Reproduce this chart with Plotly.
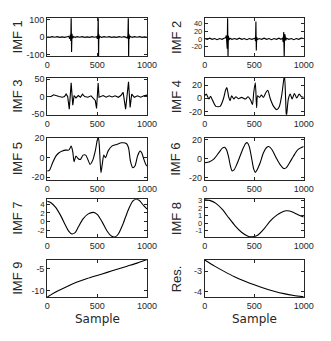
import plotly.graph_objects as go

# ---------------- data ----------------
sample_ticks = [0, 500, 1000]
sample_ticklabels = ["0", "500", "1000"]

imf1_x = [0, 25, 50, 75, 100, 125, 150, 175, 200, 215,
          225, 232, 236, 240, 244, 248, 255, 265, 280, 300,
          325, 350, 375, 400, 425, 450, 475, 495, 502, 507,
          511, 514, 517, 521, 528, 545, 570, 595, 620, 645,
          670, 695, 720, 745, 770, 790, 803, 808, 812, 815,
          818, 822, 830, 850, 875, 900, 925, 950, 975, 1000]
imf1_y = [1, -2, 2, -1, 2, -2, 1, -2, 2, 4,
          -10, 14, -22, 125, -85, 18, -7, 3, -2, 2,
          -1, 2, -2, 1, -2, 2, -1, 2, -10, 15,
          125, -125, 16, -8, 3, -2, 2, -1, 2, -2,
          1, -2, 2, -1, 2, -2, -5, 12, 125, -125,
          18, -10, 4, -2, 2, -1, 2, -2, 1, -1]

imf2_x = [0, 25, 50, 75, 100, 125, 150, 175, 195, 210,
          218, 223, 227, 231, 235, 239, 245, 255, 275, 300,
          325, 350, 375, 400, 425, 450, 475, 495, 508, 513,
          517, 521, 525, 532, 550, 575, 600, 625, 650, 675,
          700, 725, 750, 770, 785, 793, 798, 803, 807, 812,
          818, 825, 850, 875, 900, 925, 950, 975, 1000]
imf2_y = [1, -1, 2, -1, 1, -2, 1, -1, 2, 3,
          9, -12, -25, 60, -50, 8, -3, 2, -1, 1,
          -1, 2, -1, 1, -2, 1, -1, 2, 2, -6,
          45, -30, 5, -2, 1, -1, 2, -1, 1, -2,
          1, -1, 2, -1, 2, -8, 18, -50, 12, 10,
          -4, 2, -1, 1, -2, 1, -1, 2, 1]

imf3_x = [0, 38, 64, 87, 119, 151, 173, 189, 205, 221,
          240, 256, 269, 288, 311, 333, 353, 375, 407, 439,
          462, 481, 494, 510, 519, 535, 560, 590, 620, 650,
          680, 712, 737, 760, 785, 814, 830, 846, 872, 904,
          936, 968, 1000]
imf3_y = [0, 0, 5, 2, 0, -2, 0, 7, 0, -36,
          39, -25, 3, -4, 3, -2, 7, 0, -2, 2,
          -6, -11, -34, 39, -2, 0, 3, -2, 2, -1,
          2, -2, 3, 12, -36, 42, -31, 7, -2, 2,
          -2, 2, 4]

imf4_x = [0, 16, 42, 58, 81, 113, 155, 188, 210, 223,
          243, 256, 272, 294, 314, 340, 372, 411, 437, 463,
          482, 495, 511, 524, 534, 553, 573, 592, 618, 637,
          663, 696, 728, 754, 777, 796, 806, 818, 825, 845,
          864, 883, 906, 929, 955, 977, 1000]
imf4_y = [4, 6.4, -1, 3, -3.5, -12.3, -12.3, -1, 12.3, 16.3,
          1.5, -3.5, 4, -1, 2.5, -0.5, 1.5, -1, 2.5, -2.5,
          -9.4, 8.9, 23.7, -14.3, 4, 1.5, 5, 1.5, 8.9, 12.3,
          -1, -12.3, -17.3, -12.3, 4, 26, 35, -3.5, -28, -1,
          6.4, -1, 7.4, 0.5, 6.4, 2.5, 1.5]

imf5_x = [0, 22, 54, 87, 119, 151, 183, 215, 231, 240,
          256, 269, 288, 311, 333, 359, 385, 407, 429, 455,
          481, 503, 513, 522, 538, 551, 567, 583, 609, 647,
          696, 744, 792, 814, 833, 856, 878, 904, 929, 946,
          968, 987, 1000]
imf5_y = [-13.6, -12.9, -5.1, 1.7, 5.1, 6.8, 7.8, 7.8, 10.2, 11.9,
          6.1, -4.1, 1.7, -1.0, -1.7, 2.7, 2.7, -1.7, -6.8, -2.7,
          6.8, 18.6, 20.3, 11.9, -15.3, -6.8, 2.7, 0, 6.8, 11.9,
          13.6, 15.3, 14.6, 10.2, -3.4, -10.2, -8.5, 1.7, 6.8, 5.1,
          -1.7, -6.8, -8.5]

imf6_x = [0, 49, 97, 146, 178, 201, 220, 243, 259, 275,
          294, 324, 356, 388, 414, 430, 450, 476, 495, 511,
          527, 560, 592, 625, 647, 680, 722, 760, 799, 825,
          857, 896, 939, 1000]
imf6_y = [-4.1, -3.0, 0.3, 7.1, 11.2, 12.2, 9.5, 1.0, -7.5, -12.5,
          -11.9, -5.8, 2.7, 11.2, 16.3, 17, 12.9, -0.7, -10.8, -14.2,
          -11.9, -4.1, 6.1, 11.9, 12.9, 9.5, 1.0, -5.8, -10.2, -9.2,
          -4.1, 2.7, 9.5, 12.9]

imf7_x = [0, 38, 87, 135, 183, 215, 247, 279, 311, 359,
          407, 462, 503, 551, 599, 647, 679, 712, 760, 808,
          856, 888, 920, 968, 1000]
imf7_y = [4.7, 4.35, 3.2, 1.35, -0.9, -2.25, -2.9, -2.6, -1.3, 0.6,
          1.7, 2.1, 1.6, -0.15, -2.2, -3.45, -3.6, -2.9, -0.5, 2.5,
          4.7, 5.15, 4.9, 3.6, 2.85]

imf8_x = [0, 49, 113, 178, 243, 307, 372, 437, 485, 534,
          599, 663, 728, 777, 820, 858, 906, 955, 1000]
imf8_y = [3.1, 3.0, 2.6, 1.8, 0.7, -0.35, -1.2, -1.73, -1.8, -1.6,
          -0.75, 0.3, 1.05, 1.45, 1.63, 1.6, 1.35, 1.05, 0.8]

imf9_x = [0, 100, 200, 300, 400, 500, 600, 700, 800, 900, 1000]
imf9_y = [-11.5, -10.2, -9.1, -8.1, -7.3, -6.6, -5.9, -5.2, -4.5, -3.8, -3.0]

res_x = [0, 100, 200, 300, 400, 500, 600, 700, 800, 900, 1000]
res_y = [-2.45, -2.75, -3.02, -3.27, -3.48, -3.67, -3.84, -3.98, -4.1, -4.19, -4.25]

panel_labels = ["IMF 1", "IMF 2", "IMF 3", "IMF 4", "IMF 5",
                "IMF 6", "IMF 7", "IMF 8", "IMF 9", "Res."]
ytick_sets = [[-100, 0, 100], [-20, 0, 20, 40], [-50, 0, 50], [-20, 0, 20],
              [-20, 0, 20], [-20, 0, 20], [-2, 0, 2, 4], [-1, 0, 1, 2, 3],
              [-10, -5], [-4, -3]]
xlabel_text = "Sample"

series = [(imf1_x, imf1_y), (imf2_x, imf2_y), (imf3_x, imf3_y), (imf4_x, imf4_y),
          (imf5_x, imf5_y), (imf6_x, imf6_y), (imf7_x, imf7_y), (imf8_x, imf8_y),
          (imf9_x, imf9_y), (res_x, res_y)]

# ---------------- layout ----------------
W, H = 331, 341
yranges = [[-108, 108], [-44, 54], [-52, 53], [-25, 31], [-22.5, 20.3],
           [-22, 22], [-3.65, 5.15], [-1.85, 3.15], [-11.5, -3.0], [-4.27, -2.43]]
line_modes = ["linear", "linear", "linear", "spline", "spline",
              "spline", "spline", "spline", "spline", "spline"]
ytick_sizes = [9, 7.5, 9, 9, 9, 9, 8, 7.5, 9, 9]

col_px = [(46, 150), (210, 313)]
row_px = [(13.5, 52.3), (75, 112.7), (136.5, 179.5), (199.5, 238.5), (261.5, 300)]
title_x_px = [15, 180]

axis_color = "#262626"
font_family = "Liberation Sans, Arial, sans-serif"
title_font = dict(family=font_family, size=13, color=axis_color)

fig = go.Figure()
annotations = []
for i, ((xs, ys), label) in enumerate(zip(series, panel_labels)):
    r, c = divmod(i, 2)
    k = i + 1
    xa = "x" if k == 1 else f"x{k}"
    ya = "y" if k == 1 else f"y{k}"
    fig.add_trace(go.Scatter(x=xs, y=ys, mode="lines", xaxis=xa, yaxis=ya,
                             line=dict(color="black", width=1.1, shape=line_modes[i],
                                       smoothing=0.7),
                             showlegend=False, hoverinfo="skip"))
    x0, x1 = col_px[c]
    t, b = row_px[r]
    xdom = [x0 / W, x1 / W]
    ydom = [1 - b / H, 1 - t / H]
    common = dict(showgrid=False, zeroline=False, showline=True, linecolor=axis_color,
                  linewidth=1, mirror="ticks", ticks="inside", ticklen=3,
                  tickcolor=axis_color, tickwidth=1)
    fig.layout[f"xaxis{'' if k == 1 else k}"] = dict(
        domain=xdom, anchor=ya, range=[0, 1000], tickvals=sample_ticks,
        ticktext=sample_ticklabels,
        tickfont=dict(family=font_family, size=9, color=axis_color), **common)
    fig.layout[f"yaxis{'' if k == 1 else k}"] = dict(
        domain=ydom, anchor=xa, range=yranges[i], tickvals=ytick_sets[i],
        ticktext=[str(v) for v in ytick_sets[i]],
        tickfont=dict(family=font_family, size=ytick_sizes[i], color=axis_color), **common)
    annotations.append(dict(text=label, x=title_x_px[c] / W, y=(ydom[0] + ydom[1]) / 2,
                            xref="paper", yref="paper", showarrow=False, textangle=-90,
                            font=title_font, xanchor="center", yanchor="middle"))

for c in range(2):
    x0, x1 = col_px[c]
    annotations.append(dict(text=xlabel_text, x=(x0 + x1) / 2 / W, y=1 - 323 / H,
                            xref="paper", yref="paper", showarrow=False,
                            font=dict(family="DejaVu Sans, sans-serif", size=12, color=axis_color),
                            xanchor="center", yanchor="middle"))

fig.update_layout(width=W, height=H, margin=dict(l=0, r=0, t=0, b=0),
                  paper_bgcolor="white", plot_bgcolor="white",
                  annotations=annotations, showlegend=False)

fig.write_html("out.html", config={"displayModeBar": False})
